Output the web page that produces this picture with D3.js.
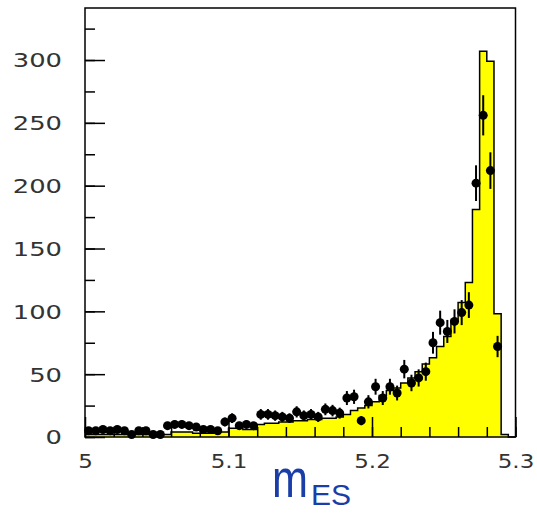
<!DOCTYPE html>
<html>
<head>
<meta charset="utf-8">
<script src="https://cdn.jsdelivr.net/npm/d3@7"></script>
<style>
  body { margin: 0; background: #fff; }
  svg { display: block; }
</style>
</head>
<body>
<div id="chart"></div>
<script>
// Histogram (yellow), bins of 0.005 starting at 5.000
var binStart = 5.0;
var binWidth = 0.005;
var histValues = [
  2, 2, 2, 2, 2, 2, 2, 2, 2, 2,
  2, 2, 4, 4, 4, 3, 3, 3, 4, 4,
  7, 7, 6, 6, 10, 11, 11, 12, 12, 13,
  13, 14, 14, 15, 15, 16, 18, 21, 23, 25,
  28, 33, 37, 39, 43, 47, 52, 58, 63, 72,
  80, 93, 107, 123, 181, 307, 299, 98, 2, 0];

// Data points at bin centres
var pointValues = [
  5, 5, 6, 5, 6, 5, 2, 5, 5, 2,
  2, 9, 10, 10, 9, 8, 6, 6, 5, 12,
  15, 9, 10, 9, 18, 18, 17, 16, 15, 20,
  17, 18, 16, 22, 21, 19, 31, 32, 13, 28,
  40, 31, 40, 35, 54, 43, 47, 52, 75, 91,
  84, 92, 99, 105, 202, 256, 212, 72];

var xMajor = [5, 5.1, 5.2, 5.3];
var xLabels = ['5', '5.1', '5.2', '5.3'];
var yMajor = [0, 50, 100, 150, 200, 250, 300];

var width = 537,
height = 513;
var plotLeft = 85, plotRight = 515.5, plotTop = 8, plotBottom = 437;

var svg = d3.select('#chart').append('svg').
attr('width', width).
attr('height', height);

var x = d3.scaleLinear().domain([5, 5.3]).range([plotLeft, plotRight]);
var y = d3.scaleLinear().domain([0, 341.4]).range([plotBottom, plotTop]);

// Histogram steps
var hist = histValues.map(function (v, i) {
  return { x0: binStart + i * binWidth, v: v };
});
var steps = hist.concat([{ x0: binStart + hist.length * binWidth, v: 0 }]);

svg.append('path').
datum(steps).
attr('d', d3.area().
  curve(d3.curveStepAfter).
  x(function (d) { return x(d.x0); }).
  y0(y(0)).
  y1(function (d) { return y(d.v); })).
style('fill', '#ffff00');

svg.append('path').
datum(steps).
attr('d', d3.line().
  curve(d3.curveStepAfter).
  x(function (d) { return x(d.x0); }).
  y(function (d) { return y(d.v); })).
style('fill', 'none').
style('stroke', '#000').
style('stroke-width', 1.5);

// Ticks, pointing inward
function styleAxis(g) {
  g.select('.domain').remove();
  g.selectAll('.tick line').style('stroke', '#000').style('stroke-width', 1.5);
  g.selectAll('text').
  style('font-family', '"DejaVu Sans", sans-serif').
  style('font-size', '19px').
  style('fill', '#333');
}

svg.append('g').
attr('transform', 'translate(' + plotLeft + ',0)').
call(d3.axisLeft(y).tickValues(d3.range(0, 341, 25)).tickSizeInner(-10).tickSizeOuter(0).tickFormat('')).
call(styleAxis);

var yAxis = svg.append('g').
attr('transform', 'translate(' + plotLeft + ',0)').
call(d3.axisLeft(y).tickValues(yMajor).tickSizeInner(-20).tickSizeOuter(0).tickFormat(d3.format('d'))).
call(styleAxis);
yAxis.selectAll('text').
attr('x', 0).
attr('dy', '0.36em').
attr('transform', 'translate(-23,0) scale(1.36,1)');

svg.append('g').
attr('transform', 'translate(0,' + plotBottom + ')').
call(d3.axisBottom(x).tickValues(d3.range(0, 16).map(function (i) { return 5 + i * 0.02; })).tickSizeInner(-10).tickSizeOuter(0).tickFormat('')).
call(styleAxis);

var xAxis = svg.append('g').
attr('transform', 'translate(0,' + plotBottom + ')').
call(d3.axisBottom(x).tickValues(xMajor).tickSizeInner(-20).tickSizeOuter(0).tickFormat(function (d, i) { return xLabels[i]; })).
call(styleAxis);
xAxis.selectAll('text').
attr('y', 0).
attr('dy', 0).
style('font-size', '20px').
attr('transform', 'translate(0,31) scale(1.15,1)');

// Data points with errors
var pts = pointValues.map(function (v, i) {
  return { x: binStart + (i + 0.5) * binWidth, v: v, e: Math.sqrt(v) };
});

var pg = svg.append('g').selectAll('g').
data(pts).
enter().append('g');

pg.append('line').
attr('x1', function (d) { return x(d.x); }).
attr('x2', function (d) { return x(d.x); }).
attr('y1', function (d) { return y(d.v - d.e); }).
attr('y2', function (d) { return y(d.v + d.e); }).
style('stroke', '#000').
style('stroke-width', 2);

pg.append('line').
attr('x1', function (d) { return x(d.x - binWidth / 2); }).
attr('x2', function (d) { return x(d.x + binWidth / 2); }).
attr('y1', function (d) { return y(d.v); }).
attr('y2', function (d) { return y(d.v); }).
style('stroke', '#000').
style('stroke-width', 2);

pg.append('circle').
attr('cx', function (d) { return x(d.x); }).
attr('cy', function (d) { return y(d.v); }).
attr('r', 4.5).
style('fill', '#000');

// Frame
svg.append('rect').
attr('x', plotLeft).
attr('y', plotTop).
attr('width', plotRight - plotLeft).
attr('height', plotBottom - plotTop).
style('fill', 'none').
style('stroke', '#000').
style('stroke-width', 1.5);

// Axis title: m_ES
var title = svg.append('g').style('fill', '#1a3da8').style('font-family', '"Liberation Sans", Arial, sans-serif');
title.append('text').
attr('transform', 'translate(272,497) scale(0.8,1)').
style('font-size', '54px').
text('m');
title.append('text').
attr('x', 311).
attr('y', 505).
style('font-size', '30px').
text('ES');
</script>
</body>
</html>
